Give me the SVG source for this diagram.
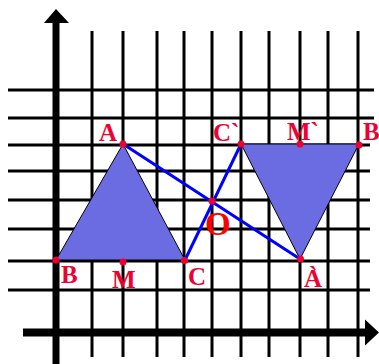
<svg xmlns="http://www.w3.org/2000/svg" width="379" height="364" viewBox="0 0 379 364">
<style>
.g{stroke:#000;stroke-width:3;fill:none}
.tri{fill:#6c6ce2;stroke:#000;stroke-width:1}
.seg{stroke:#0000ff;stroke-width:3;fill:none}
.pt{fill:#ee0033}
.lb{font-family:"Liberation Serif","Times New Roman",serif;font-weight:bold;font-size:25px;fill:#ee0033}
.lo{font-family:"Liberation Serif","Times New Roman",serif;font-weight:bold;font-size:33px;fill:#ff0000}
</style>
<rect width="379" height="364" fill="#fff"/>
<g id="grid" class="g">
<path d="M92 31V357M123 31V357M157 31V357M184 31V357M212 31V357M241 31V357M269 31V357M300 31V357M328 31V357M358 31V357"/>
<path d="M8 90H374M8 118H374M8 145H370M8 171H370M8 200H370M8 229H370M8 261H370M8 290H370"/>
</g>
<g id="axes">
<rect x="52.5" y="22" width="7" height="342" fill="#000"/>
<polygon points="44,23 56,9 69,23" fill="#000"/>
<rect x="23" y="328.5" width="344" height="8" fill="#000"/>
<polygon points="365,319.5 379,332.5 365,345.5" fill="#000"/>
</g>
<g id="triangle-ABC"><polygon class="tri" points="123,144 56,260 185,260"/></g>
<g id="triangle-A1B1C1"><polygon class="tri" points="241,144 359,144 300,259"/></g>
<g id="connectors">
<line class="seg" x1="123" y1="144" x2="300" y2="259"/>
<line class="seg" x1="185" y1="260" x2="241" y2="144"/>
</g>
<g id="A"><circle class="pt" cx="123" cy="144" r="3.5"/><text class="lb" x="99" y="141">A</text></g>
<g id="B"><circle class="pt" cx="56" cy="260" r="3.5"/><text class="lb" x="61" y="283">B</text></g>
<g id="M"><circle class="pt" cx="123" cy="262" r="3.5"/><text class="lb" x="112" y="288">M</text></g>
<g id="C"><circle class="pt" cx="184.5" cy="260.5" r="3.5"/><text class="lb" x="188" y="285">C</text></g>
<g id="C1"><circle class="pt" cx="241" cy="144" r="3.5"/><text class="lb" x="213" y="141">C`</text></g>
<g id="M1"><circle class="pt" cx="300" cy="144" r="3.5"/><text class="lb" x="287" y="140">M`</text></g>
<g id="B1"><circle class="pt" cx="359" cy="145" r="3.5"/><text class="lb" x="363" y="140">B`</text></g>
<g id="A1"><circle class="pt" cx="300.5" cy="259" r="3.5"/><text class="lb" x="304" y="287">A<tspan dx="-13" dy="-3">`</tspan></text></g>
<g id="O"><circle class="pt" cx="212" cy="201" r="3.5"/><text class="lo" x="205" y="235">O</text></g>
</svg>
